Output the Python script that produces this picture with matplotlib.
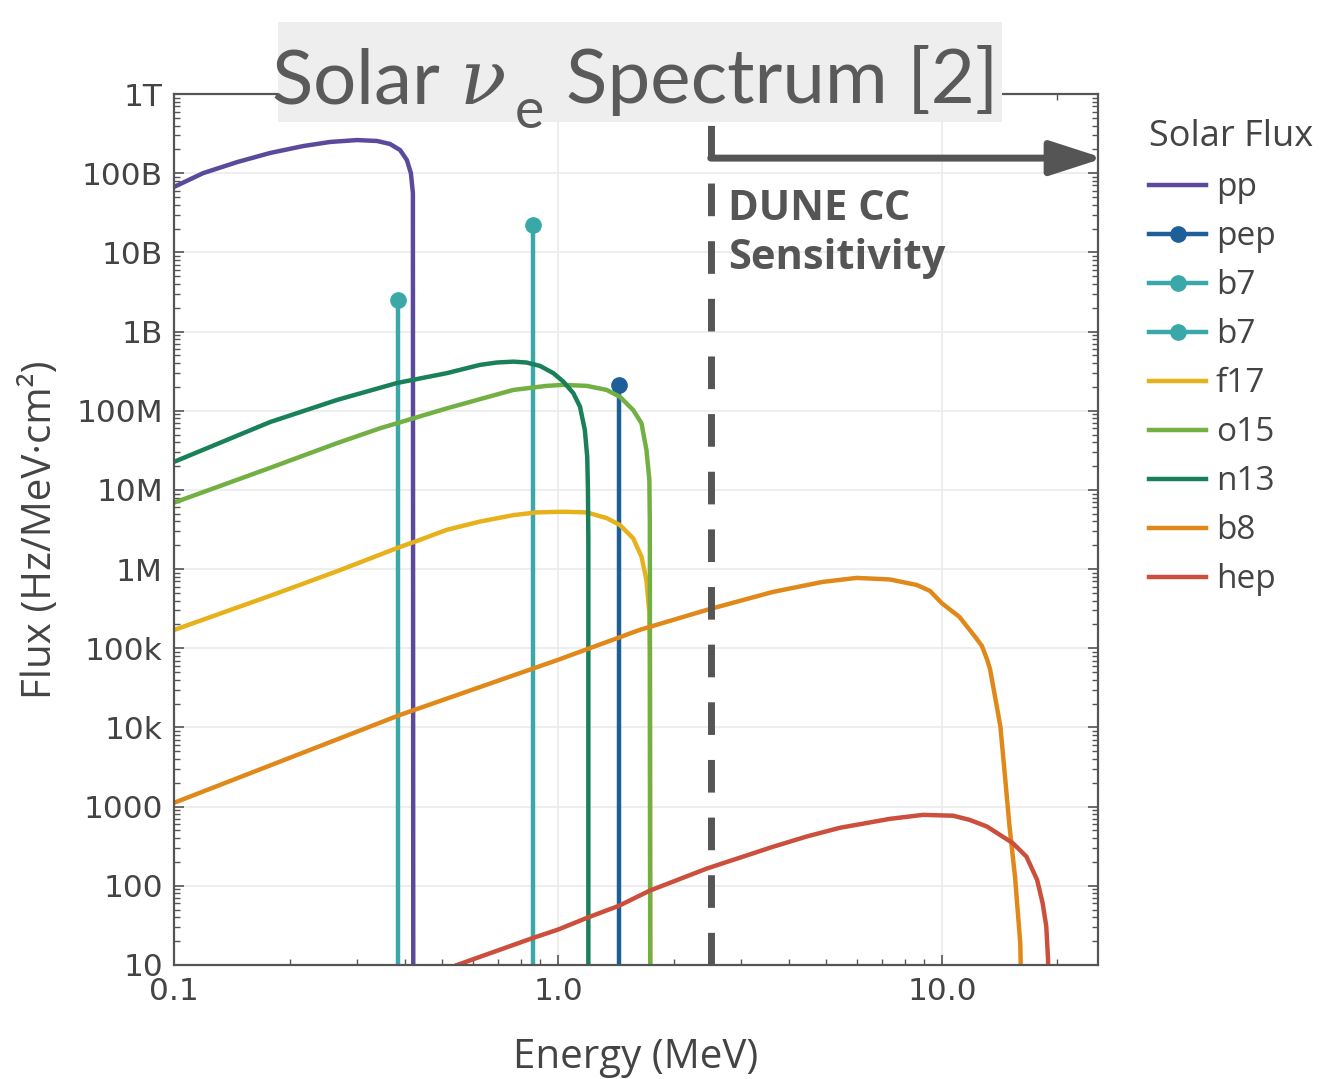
import matplotlib
matplotlib.use("Agg")
import matplotlib.pyplot as plt
from matplotlib.ticker import FixedLocator, FixedFormatter, LogLocator, NullFormatter
from matplotlib.lines import Line2D
from matplotlib.patches import Rectangle

# energies (MeV) and fluxes (Hz/MeV/cm^2)
pp_e = [0.1, 0.119, 0.146, 0.178, 0.217, 0.255, 0.300, 0.338, 0.365, 0.388, 0.404, 0.414, 0.419, 0.419, 0.42]
pp_f = [6.7e10, 1.0e11, 1.38e11, 1.8e11, 2.2e11, 2.48e11, 2.62e11, 2.55e11, 2.34e11, 1.96e11, 1.47e11,
        1.0e11, 5.6e10, 2.57e10, 1]

n13_e = [0.1, 0.178, 0.266, 0.381, 0.513, 0.626, 0.692, 0.765, 0.829, 0.898, 0.973, 1.033, 1.097,
         1.141, 1.175, 1.192, 1.197, 1.2, 1.2]
n13_f = [2.26e7, 7.2e7, 1.37e8, 2.24e8, 2.98e8, 3.79e8, 4.06e8, 4.17e8, 4.06e8, 3.68e8, 2.98e8, 2.33e8,
         1.66e8, 1.13e8, 5.7e7, 2.6e7, 1e7, 2.3e6, 1]

o15_e = [0.1, 0.178, 0.266, 0.344, 0.513, 0.765, 0.934, 1.033, 1.188, 1.34, 1.45, 1.57, 1.65, 1.70,
         1.73, 1.735, 1.74]
o15_f = [6.9e6, 1.9e7, 3.9e7, 6.0e7, 1.07e8, 1.83e8, 2.06e8, 2.12e8, 2.06e8, 1.83e8, 1.5e8, 1.02e8,
         6.96e7, 3.2e7, 1.34e7, 3.8e6, 1]

f17_e = [0.1, 0.178, 0.266, 0.383, 0.437, 0.513, 0.626, 0.765, 0.879, 1.033, 1.188, 1.34, 1.45, 1.57,
         1.65, 1.70, 1.73, 1.735, 1.74]
f17_f = [1.7e5, 4.6e5, 9.4e5, 1.86e6, 2.34e6, 3.13e6, 3.98e6, 4.8e6, 5.2e6, 5.3e6, 5.2e6, 4.4e6,
         3.6e6, 2.45e6, 1.44e6, 7.3e5, 2.77e5, 7.9e4, 1]

b8_e = [0.1, 0.388, 1.0, 1.635, 2.44, 3.63, 4.90, 6.0, 7.32, 8.6, 9.31, 10.0, 11.1, 12.2, 12.71, 13.1,
        13.34, 13.6, 14.2, 14.6, 15.0, 15.5, 16.0, 16.2]
b8_f = [1117, 14400, 71400, 1.71e5, 3.05e5, 5.15e5, 6.9e5, 7.74e5, 7.4e5, 6.3e5, 5.3e5, 3.7e5, 2.5e5,
        1.4e5, 1.07e5, 7.3e4, 5.5e4, 3.3e4, 1.03e4, 2400, 561, 131, 18.9, 1]

hep_e = [0.546, 0.862, 1.0, 1.2, 1.442, 1.735, 2.44, 3.63, 4.44, 5.42, 7.32, 8.93, 10.7, 11.8, 13.1,
         15.3, 16.6, 17.7, 18.3, 18.7, 18.9, 19.0]
hep_f = [10, 22, 28, 40, 56, 87, 165, 311, 419, 540, 701, 787, 768, 681, 561, 346, 234, 119, 60, 30.7,
         11.7, 1]

# monoenergetic lines: energy, flux
pep_line = (1.442, 2.1e8)
b7_lines = [(0.384, 2.5e9), (0.862, 2.2e10)]

dune_threshold = 2.5
arrow_flux = 1.55e11

yticks = [1e1, 1e2, 1e3, 1e4, 1e5, 1e6, 1e7, 1e8, 1e9, 1e10, 1e11, 1e12]
ytick_labels = ['10', '100', '1000', '10k', '100k', '1M', '10M', '100M', '1B', '10B', '100B', '1T']
xticks = [0.1, 1.0, 10.0]
xtick_labels = ['0.1', '1.0', '10.0']

colors = {
    'pp': '#5b4a9c', 'pep': '#1f5f99', 'b7': '#3aa8a8', 'f17': '#e6b11a',
    'o15': '#72b044', 'n13': '#19805a', 'b8': '#e0891a', 'hep': '#cc4e3c',
}

grey = '#555555'
txt = '#444444'
lw = 3.2
label_font = ['Open Sans', 'DejaVu Sans']
title_font = ['Lato', 'DejaVu Sans']

fig = plt.figure(figsize=(13.2, 10.79), dpi=100)
ax = fig.add_axes([174 / 1320, 1 - 965 / 1079, 924 / 1320, 871 / 1079])
ax.set_xscale('log')
ax.set_yscale('log')
ax.set_xlim(0.1, 25.5)
ax.set_ylim(10, 1e12)

ax.plot(pp_e, pp_f, color=colors['pp'], lw=lw)
for e, f in b7_lines:
    ax.plot([e, e], [1, f], color=colors['b7'], lw=lw, marker='o', ms=11, markevery=[1])
ax.plot([pep_line[0]] * 2, [1, pep_line[1]], color=colors['pep'], lw=lw, marker='o', ms=11, markevery=[1])
ax.plot(f17_e, f17_f, color=colors['f17'], lw=lw)
ax.plot(o15_e, o15_f, color=colors['o15'], lw=lw)
ax.plot(n13_e, n13_f, color=colors['n13'], lw=lw)
ax.plot(b8_e, b8_f, color=colors['b8'], lw=lw)
ax.plot(hep_e, hep_f, color=colors['hep'], lw=lw)

# DUNE threshold
ax.axvline(dune_threshold, color=grey, lw=5, ls=(0, (4.7, 3.6)), zorder=5)
ax.annotate('', xy=(1.006, arrow_flux), xycoords=('axes fraction', 'data'),
            xytext=(dune_threshold, arrow_flux), textcoords='data',
            arrowprops=dict(arrowstyle='-|>,head_length=1.3,head_width=0.42',
                            color=grey, lw=5, shrinkA=0, shrinkB=0, mutation_scale=25))
ax.text(2.77, 6.3e10, 'DUNE CC\nSensitivity', fontsize=30, fontweight='bold', color=grey,
        family=['Open Sans', 'DejaVu Sans'], va='top', ha='left', linespacing=1.25)

# axes styling
ax.yaxis.set_major_locator(FixedLocator(yticks))
ax.yaxis.set_major_formatter(FixedFormatter(ytick_labels))
ax.xaxis.set_major_locator(FixedLocator(xticks))
ax.xaxis.set_major_formatter(FixedFormatter(xtick_labels))
ax.yaxis.set_minor_locator(LogLocator(base=10, subs=range(2, 10), numticks=30))
ax.xaxis.set_minor_locator(LogLocator(base=10, subs=range(2, 10), numticks=30))
ax.yaxis.set_minor_formatter(NullFormatter())
ax.xaxis.set_minor_formatter(NullFormatter())
ax.tick_params(which='both', direction='in', top=True, right=True, color=grey, labelcolor=txt)
ax.tick_params(which='major', length=7, width=1.2, labelsize=22.5)
ax.tick_params(axis='y', which='major', pad=8)
ax.tick_params(axis='x', which='major', pad=9)
ax.tick_params(which='minor', length=4, width=1.0)
ax.grid(True, which='major', color='#ebebeb', lw=1.2)
ax.set_axisbelow(True)
for s in ax.spines.values():
    s.set_color(grey)
    s.set_linewidth(1.6)

ax.set_xlabel('Energy (MeV)', fontsize=29, color=txt, labelpad=22, family=label_font)
ax.set_ylabel('Flux (Hz/MeV·cm²)', fontsize=29, color=txt, labelpad=11, family=label_font)

# title with grey box over the top spine
fig.add_artist(Rectangle((278 / 1320, 1 - 122 / 1079), 724 / 1320, 100 / 1079,
                         transform=fig.transFigure, facecolor='#eeeeee', edgecolor='none', zorder=9))
fig.text(506 / 1320, 1 - 103 / 1079, 'Solar $\\nu$', fontsize=55, family=title_font,
         color='#5a5a5a', ha='right', va='baseline', zorder=10,
         math_fontfamily='dejavuserif')
fig.text(515 / 1320, 1 - 128 / 1079, 'e', fontsize=40, family=title_font,
         color='#5a5a5a', ha='left', va='baseline', zorder=10)
fig.text(566 / 1320, 1 - 103 / 1079, 'Spectrum [2]', fontsize=55, family=title_font,
         color='#5a5a5a', ha='left', va='baseline', zorder=10)

# legend
handles = [
    Line2D([], [], color=colors['pp'], lw=lw),
    Line2D([], [], color=colors['pep'], lw=lw, marker='o', ms=11),
    Line2D([], [], color=colors['b7'], lw=lw, marker='o', ms=11),
    Line2D([], [], color=colors['b7'], lw=lw, marker='o', ms=11),
    Line2D([], [], color=colors['f17'], lw=lw),
    Line2D([], [], color=colors['o15'], lw=lw),
    Line2D([], [], color=colors['n13'], lw=lw),
    Line2D([], [], color=colors['b8'], lw=lw),
    Line2D([], [], color=colors['hep'], lw=lw),
]
names = ['pp', 'pep', 'b7', 'b7', 'f17', 'o15', 'n13', 'b8', 'hep']
leg = fig.legend(handles, names, title='Solar Flux', loc='upper left',
                 bbox_to_anchor=(1136 / 1320, 1 - 106 / 1079), frameon=False,
                 prop={'family': label_font, 'size': 24},
                 title_fontproperties={'family': label_font, 'size': 26},
                 handlelength=1.7, handletextpad=0.3, labelspacing=0.48,
                 alignment='left', borderaxespad=0)
for t in leg.get_texts():
    t.set_color(txt)
leg.get_title().set_color(txt)

fig.savefig('out.png', dpi=100)
